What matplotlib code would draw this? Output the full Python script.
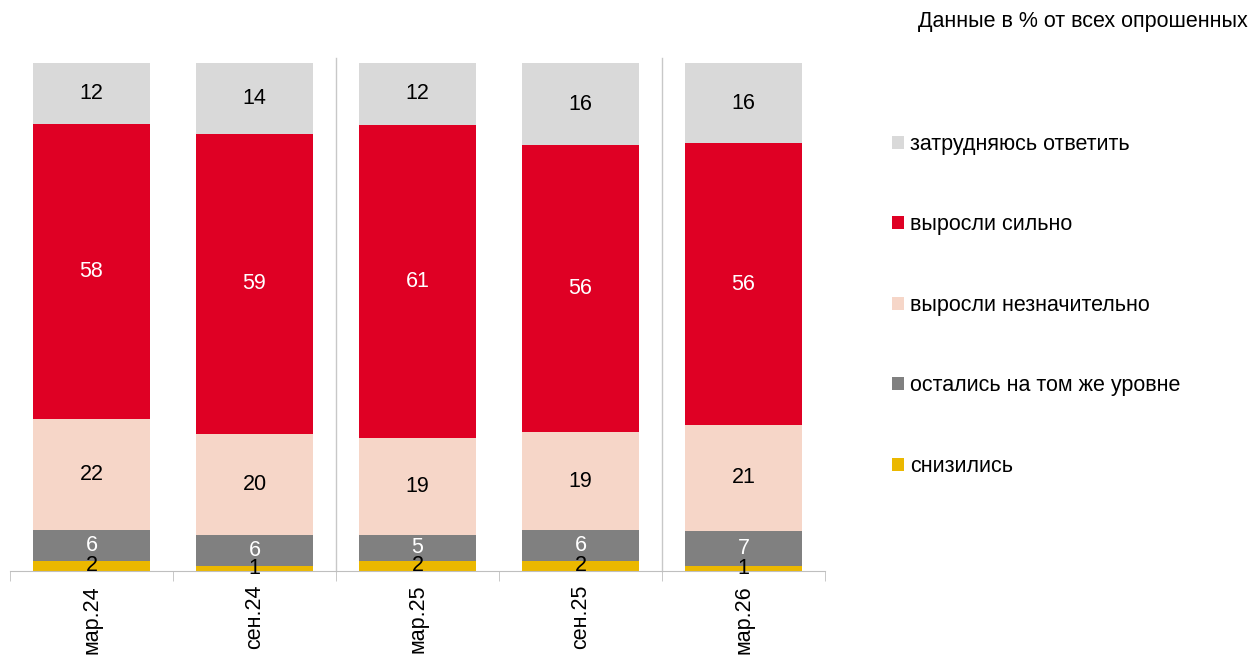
import numpy as np
import matplotlib.pyplot as plt

plt.rcParams['font.family'] = ['Liberation Sans', 'DejaVu Sans']

periods = ['мар.24', 'сен.24', 'мар.25', 'сен.25', 'мар.26']

# bottom-to-top order of the stack
series_names = ['снизились', 'остались на том же уровне', 'выросли незначительно',
                'выросли сильно', 'затрудняюсь ответить']
decreased = [2, 1, 2, 2, 1]
same_level = [6, 6, 5, 6, 7]
grew_slightly = [22, 20, 19, 19, 21]
grew_strongly = [58, 59, 61, 56, 56]
hard_to_say = [12, 14, 12, 16, 16]

colors = ['#EBB800', '#808080', '#F6D6C8', '#DF0024', '#D9D9D9']
text_colors = ['black', 'white', 'black', 'white', 'black']
FS = 15.5

data = np.array([decreased, same_level, grew_slightly, grew_strongly, hard_to_say], dtype=float)
# every column is shown as a 100% stack
shares = data / data.sum(axis=0) * 100

fig = plt.figure(figsize=(12.6, 6.55), dpi=100)
ax = fig.add_axes([10 / 1260, 84 / 655, 815 / 1260, 508 / 655])

x = np.arange(len(periods))
bottom = np.zeros(len(periods))
handles = []
for i, name in enumerate(series_names):
    bars = ax.bar(x, shares[i], 0.715, bottom=bottom, color=colors[i], label=name)
    handles.append(bars)
    for j in range(len(periods)):
        ax.text(x[j], bottom[j] + shares[i][j] / 2, f'{int(data[i][j])}',
                ha='center', va='center', fontsize=FS, color=text_colors[i])
    bottom += shares[i]

ax.set_xlim(-0.5, len(periods) - 0.5)
ax.set_ylim(0, 100)

# separators between half-year groups
for sep in [1.5, 3.5]:
    ax.plot([sep, sep], [0, 101], color='#C8C8C8', lw=1, clip_on=False)

for side in ['top', 'right', 'left']:
    ax.spines[side].set_visible(False)
ax.spines['bottom'].set_color('#BFBFBF')
ax.set_yticks([])
ax.set_xticks(x)
ax.set_xticklabels(periods, rotation=90, fontsize=FS)
ax.tick_params(axis='x', which='major', length=0, pad=10)
ax.set_xticks(np.arange(-0.5, len(periods)), minor=True)
ax.tick_params(axis='x', which='minor', length=7, color='#BFBFBF')

fig.text(1248 / 1260, 1 - 22 / 655, 'Данные в % от всех опрошенных',
         ha='right', va='center', fontsize=FS)

leg = fig.legend(handles[::-1], series_names[::-1], loc='upper left',
                 bbox_to_anchor=(892 / 1260, 1 - 134 / 655), frameon=False,
                 fontsize=FS, handlelength=0.55, handleheight=0.55,
                 handletextpad=0.3, labelspacing=2.76, borderpad=0, borderaxespad=0)

fig.savefig('out.png', dpi=100)
